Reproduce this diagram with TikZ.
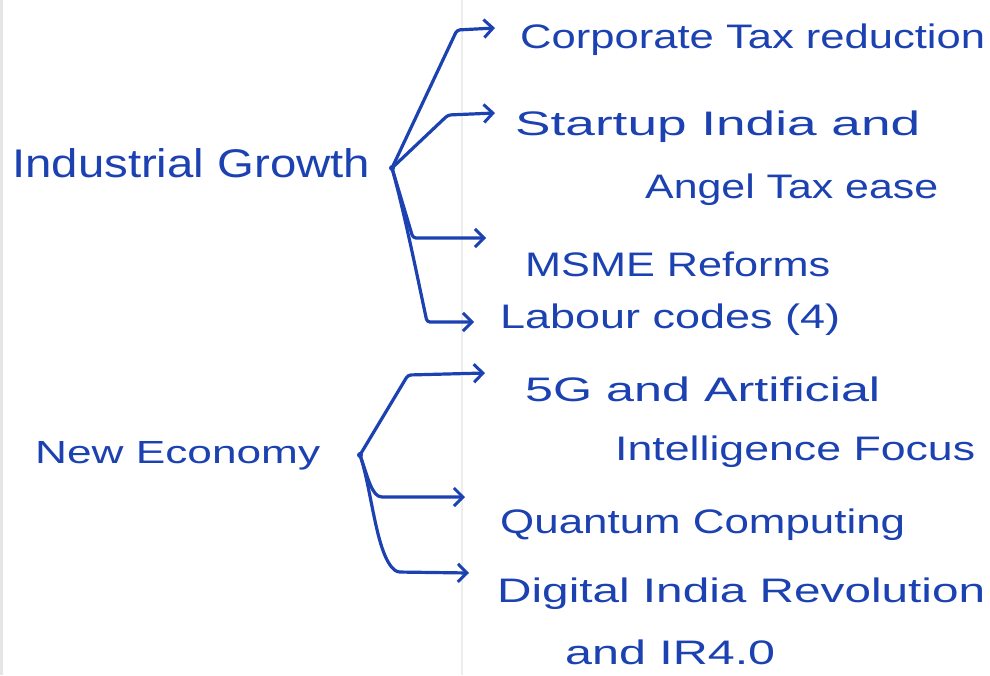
\documentclass[tikz,border=0pt]{standalone}
\usepackage{fontspec}
\setmainfont{Liberation Sans}
\usetikzlibrary{arrows.meta}
\definecolor{ink}{RGB}{28,66,178}
% stretch a line of text to a given width, keeping its height
\newcommand{\inkfit}[2]{\resizebox{#1}{\height}{#2}}
\begin{document}
\begin{tikzpicture}[x=1pt,y=-1pt,
  lbl/.style={anchor=base west,inner sep=0pt,text=ink,font=\fontsize{34}{40}\selectfont},
  root/.style={lbl,font=\fontsize{40}{46}\selectfont},
  branch/.style={draw=ink,line width=3.2pt,line cap=round,line join=round,rounded corners=3pt,
    -{Straight Barb[length=9pt,width=18pt,line width=3pt]}}]
\fill[white] (0,0) rectangle (990,675);
\useasboundingbox (0,0) rectangle (990,675);
% paper: left edge and faint margin rule
\fill[black!10] (0,0) rectangle (3,675);
\draw[black!7,line width=1.2pt] (462,0) -- (462,675);

% roots
\node[root] (ig) at (12,177) {\inkfit{358pt}{Industrial Growth}};
\node[root,font=\fontsize{32}{38}\selectfont] (ne) at (35,463) {\inkfit{285pt}{New Economy}};
\coordinate (igh) at (392,168);
\coordinate (neh) at (360,455);

% industrial growth items
\node[lbl] (corp) at (520,48) {\inkfit{465pt}{Corporate Tax reduction}};
\node[lbl] (start) at (515,135) {\inkfit{405pt}{Startup India and}};
\node[lbl] (angel) at (645,198) {\inkfit{293pt}{Angel Tax ease}};
\node[lbl] (msme) at (525,276) {\inkfit{305pt}{MSME Reforms}};
\node[lbl] (lab) at (500,328) {\inkfit{340pt}{Labour codes (4)}};

% new economy items
\node[lbl] (fiveg) at (525,401) {\inkfit{355pt}{5G and Artificial}};
\node[lbl] (ai) at (615,460) {\inkfit{360pt}{Intelligence Focus}};
\node[lbl] (quant) at (500,533) {\inkfit{405pt}{Quantum Computing}};
\node[lbl] (dig) at (497,602) {\inkfit{488pt}{Digital India Revolution}};
\node[lbl] (ir) at (565,664) {\inkfit{210pt}{and IR4.0}};

% branch ends, just left of each item
\coordinate (tcorp) at (495,28);
\coordinate (tstart) at (495,113);
\coordinate (tmsme) at (486,238);
\coordinate (tlab) at (474,322);
\coordinate (tfiveg) at (485,373);
\coordinate (tquant) at (465,497);
\coordinate (tdig) at (469,573);

% branches from Industrial Growth
\draw[branch] (igh) -- (457,30) -- (tcorp);
\draw[branch] (igh) -- (448,115) -- (tstart);
\draw[branch] (igh) -- (413,238) -- (tmsme);
\draw[branch] (igh) .. controls (405,215) and (418,280) .. (427,322) -- (tlab);
\fill[ink] (igh) circle (3pt);

% branches from New Economy
\draw[branch] (neh) -- (408,375) -- (tfiveg);
\draw[branch] (neh) .. controls (368,478) and (372,497) .. (385,497) -- (tquant);
\draw[branch] (neh) .. controls (372,490) and (376,555) .. (397,572) -- (tdig);
\fill[ink] (neh) circle (3pt);
\end{tikzpicture}
\end{document}
